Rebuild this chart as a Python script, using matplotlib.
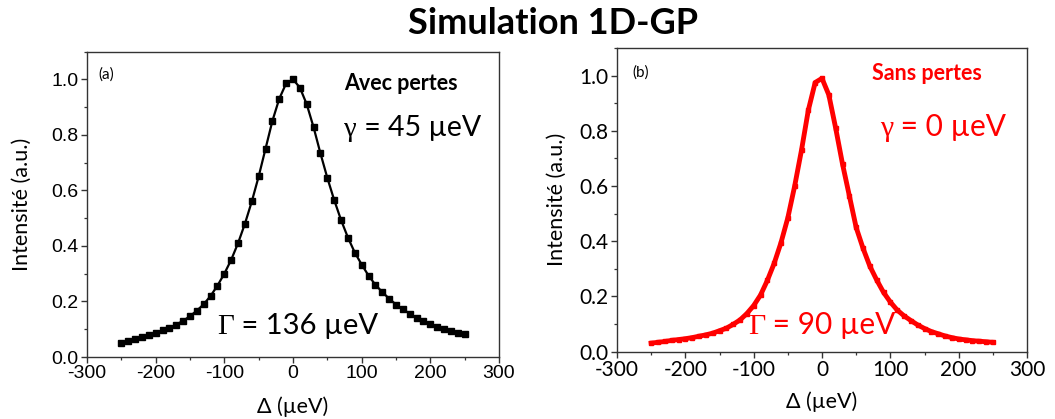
import numpy as np
import matplotlib
matplotlib.use("Agg")
import matplotlib.pyplot as plt
from matplotlib.ticker import MultipleLocator
from matplotlib.offsetbox import TextArea, HPacker, AnchoredOffsetbox

# ---------------- data ----------------
x_a = np.arange(-250, 251, 10)
y_a = [0.050, 0.058, 0.065, 0.072, 0.078, 0.087, 0.096, 0.105, 0.117, 0.130,
       0.147, 0.167, 0.190, 0.220, 0.257, 0.300, 0.350, 0.410, 0.480, 0.560,
       0.650, 0.750, 0.850, 0.930, 0.985, 1.000, 0.970, 0.910, 0.827, 0.733,
       0.645, 0.565, 0.493, 0.430, 0.376, 0.333, 0.293, 0.260, 0.234, 0.210,
       0.189, 0.172, 0.156, 0.141, 0.130, 0.118, 0.108, 0.101, 0.093, 0.087,
       0.084]

x_b = np.arange(-250, 251, 10)
y_b = [0.031, 0.034, 0.037, 0.041, 0.044, 0.047, 0.051, 0.056, 0.061, 0.067,
       0.076, 0.085, 0.099, 0.115, 0.138, 0.167, 0.205, 0.258, 0.320, 0.395,
       0.485, 0.600, 0.730, 0.875, 0.975, 0.990, 0.930, 0.810, 0.680, 0.565,
       0.450, 0.375, 0.310, 0.260, 0.215, 0.180, 0.151, 0.130, 0.113, 0.097,
       0.084, 0.073, 0.065, 0.057, 0.051, 0.046, 0.043, 0.040, 0.038, 0.036,
       0.034]

xticks = [-300, -200, -100, 0, 100, 200, 300]
yticks = [0.0, 0.2, 0.4, 0.6, 0.8, 1.0]

title = "Simulation 1D-GP"
xlabel = "Δ (µeV)"
ylabel = "Intensité (a.u.)"

RED = "#ff0000"
W, H = 1055, 419

fig = plt.figure(figsize=(W / 100, H / 100), dpi=100)


def px_rect(l, t, r, b):
    return [l / W, 1 - b / H, (r - l) / W, (b - t) / H]


ax1 = fig.add_axes(px_rect(87, 51.5, 499, 357))
ax2 = fig.add_axes(px_rect(617, 48, 1027, 351.7))


def style(ax, tickfont, ticksize, ylab_x, xlab_y):
    ax.set_xlim(-300, 300)
    ax.set_ylim(0, 1.1)
    ax.set_xticks(xticks)
    ax.set_yticks(yticks)
    ax.set_xticklabels([str(v) for v in xticks])
    ax.set_yticklabels([f"{v:.1f}" for v in yticks])
    ax.xaxis.set_minor_locator(MultipleLocator(50))
    ax.yaxis.set_minor_locator(MultipleLocator(0.1))
    ax.tick_params(which="major", direction="out", length=4, width=1,
                   color="#333333", labelsize=ticksize, pad=2,
                   top=False, right=False)
    ax.tick_params(which="minor", direction="out", length=2.2, width=0.9,
                   color="#333333", top=False, right=False)
    for lab in ax.get_xticklabels() + ax.get_yticklabels():
        lab.set_family(tickfont)
    for s in ax.spines.values():
        s.set_color("#333333")
        s.set_linewidth(1.0)
    ax.set_xlabel(xlabel, fontsize=15.5, family="Lato", va="center")
    ax.set_ylabel(ylabel, fontsize=15.5, family="Lato", va="center")
    ax.yaxis.set_label_coords(ylab_x, 0.5)
    ax.xaxis.set_label_coords(0.5, xlab_y)


style(ax1, "Liberation Sans", 14, -0.158, -0.164)
style(ax2, "Lato", 15, -0.146, -0.166)

ax1.plot(x_a, y_a, color="black", lw=1.6, marker="s", ms=4.5,
         markerfacecolor="black", markeredgecolor="black", clip_on=False)
ax2.plot(x_b, y_b, color=RED, lw=3.5, marker="s", ms=3.4,
         markerfacecolor=RED, markeredgecolor=RED, clip_on=False)

fig.text(553 / W, 1 - 23 / H, title, ha="center", va="center",
         fontsize=26, fontweight="bold", family="Lato")


def ftext(x, y, s, **kw):
    return fig.text(x / W, 1 - y / H, s, **kw)


ftext(98, 75, "(a)", fontsize=11, family="Lato", va="center")
ftext(632, 73, "(b)", fontsize=11, family="Lato", va="center")
ftext(344, 83, "Avec pertes", fontsize=15.5, fontweight="bold", family="Lato",
      va="center")
ftext(872, 74, "Sans pertes", fontsize=15.5, fontweight="bold", family="Lato",
      va="center", color=RED)


def greek_label(x, y_base, greek, rest, size, color):
    g = TextArea(greek, textprops=dict(fontsize=size, family="Liberation Serif",
                                       color=color))
    r = TextArea(rest, textprops=dict(fontsize=size, family="Lato",
                                      color=color))
    box = HPacker(children=[g, r], align="baseline", pad=0, sep=0)
    desc = size * 1.39 * 0.25
    anch = AnchoredOffsetbox(loc="lower left", child=box, pad=0, borderpad=0,
                             frameon=False,
                             bbox_to_anchor=(x / W, 1 - (y_base + desc) / H),
                             bbox_transform=fig.transFigure)
    fig.add_artist(anch)


greek_label(344, 135, "γ", " = 45 µeV", 20.5, "black")
greek_label(217, 333, "Γ", " = 136 µeV", 21, "black")
greek_label(880, 135, "γ", " = 0 µeV", 21.5, RED)
greek_label(748, 333, "Γ", " = 90 µeV", 21.5, RED)

fig.savefig("out.png", dpi=100)
